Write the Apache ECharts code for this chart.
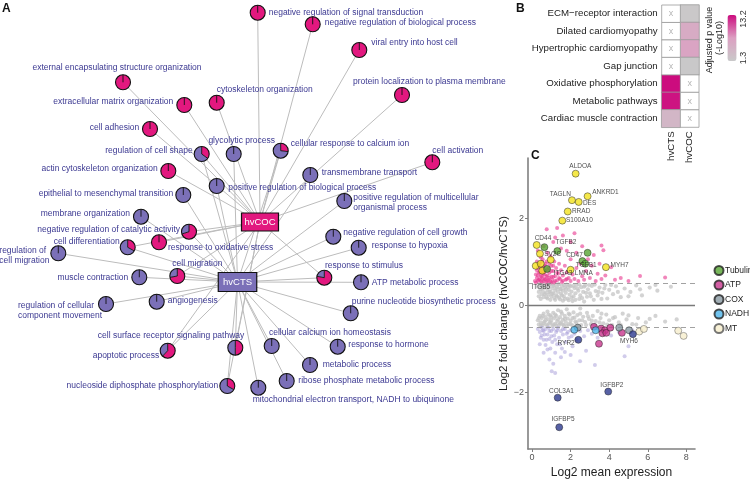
<!DOCTYPE html>
<html><head><meta charset="utf-8">
<script src="https://cdn.jsdelivr.net/npm/echarts@6/dist/echarts.min.js"></script>
<style>html,body{margin:0;padding:0;background:#fff}#c{width:750px;height:484px}</style>
</head><body><div id="c"></div>
<script>
// ---------------- Panel A data ----------------
const termNames = [
'negative regulation of signal transduction','negative regulation of biological process','viral entry into host cell',
'protein localization to plasma membrane','cytoskeleton organization','glycolytic process','cellular response to calcium ion',
'cell activation','external encapsulating structure organization','extracellular matrix organization','cell adhesion',
'regulation of cell shape','actin cytoskeleton organization','epithelial to mesenchymal transition','membrane organization',
'negative regulation of catalytic activity','cell differentiation','response to oxidative stress','regulation of\ncell migration',
'cell migration','muscle contraction','regulation of cellular\ncomponent movement','angiogenesis',
'positive regulation of biological process','transmembrane transport','positive regulation of multicellular\norganismal process',
'negative regulation of cell growth','response to hypoxia','response to stimulus','ATP metabolic process',
'purine nucleotide biosynthetic process','cell surface receptor signaling pathway','apoptotic process',
'nucleoside diphosphate phosphorylation','cellular calcium ion homeostasis','response to hormone','metabolic process',
'ribose phosphate metabolic process','mitochondrial electron transport, NADH to ubiquinone'];
const termX = [257.7,312.7,359.3,402,216.7,233.7,280.7,432.3,123,184.3,150,201.7,168.3,183.3,141,189,127.7,159,58.3,177.3,139.3,106,156.7,216.7,310.3,344.3,333.3,358.7,324.3,361,350.7,235.3,167.7,227.3,271.7,337.7,310,286.7,258.3];
const termY = [12.7,24.3,50,95,102.7,154,150.7,162.3,82.3,105,129,154,171,195,216.7,231.7,247.3,242.3,253.3,276,277.3,304,301.7,186,175,201,236.7,247.7,277.7,282.3,313.3,347.7,350.7,386,346,346.7,365,381,387.7];
// share of each term's pie belonging to hvCOC (rest is hvCTS)
const cocShare = [1,1,1,1,1,0,0.27,1,1,1,1,0.35,1,0,0,0.7,0.33,1,0,0.72,0,0,0,0,0,0,0,0,0.78,0,0,0.5,0.62,0.33,0,0,0,0,0];
const hubNames = ['hvCOC','hvCTS'];
const hubX = [260, 237.5];
const hubY = [222, 282];

// ---------------- Panel B data ----------------
const pathways = ['ECM\u2212receptor interaction','Dilated cardiomyopathy','Hypertrophic cardiomyopathy','Gap junction','Oxidative phosphorylation','Metabolic pathways','Cardiac muscle contraction'];
const groups = ['hvCTS','hvCOC'];
const padjCTS = [null,null,null,null,13.2,12.9,4.0];
const padjCOC = [1.5,5.6,6.7,1.4,null,null,null];
const padjRange = [1.3, 13.2];

// ---------------- Panel C data ----------------
const xTicks = [0,2,4,6,8];
const yTicks = [-2,0,2];
const grayPts = [[0.3,0.42],[0.35,0.3],[0.4,0.47],[0.45,0.36],[0.5,0.25],[0.5,0.44],[0.55,0.33],[0.6,0.48],[0.6,0.18],[0.65,0.4],[0.7,0.28],[0.75,0.45],[0.8,0.35],[0.8,0.15],[0.85,0.24],[0.9,0.42],[0.95,0.31],[1.0,0.48],[1.0,0.2],[1.05,0.38],[1.1,0.27],[1.15,0.45],[1.2,0.12],[1.2,0.33],[1.25,0.22],[1.3,0.41],[1.35,0.3],[1.4,0.48],[1.4,0.17],[1.45,0.37],[1.5,0.26],[1.55,0.44],[1.6,0.1],[1.6,0.33],[1.65,0.2],[1.7,0.4],[1.75,0.28],[1.8,0.47],[1.85,0.15],[1.9,0.35],[1.95,0.24],[2.0,0.43],[2.05,0.31],[2.1,0.09],[2.15,0.2],[2.2,0.39],[2.25,0.27],[2.3,0.46],[2.4,0.33],[2.45,0.14],[2.5,0.22],[2.55,0.41],[2.65,0.3],[2.7,0.08],[2.75,0.45],[2.85,0.19],[2.9,0.36],[3.0,0.27],[3.1,0.44],[3.2,0.12],[3.3,0.32],[3.4,0.22],[3.5,0.4],[3.65,0.28],[3.8,0.46],[3.9,0.15],[4.0,0.35],[4.2,0.25],[4.35,0.43],[4.6,0.18],[4.8,0.38],[5.1,0.3],[5.4,0.45],[5.7,0.22],[6.1,0.4],[6.5,0.33],[7.2,0.42],
[0.35,0.2],[0.45,0.14],[0.55,0.45],[0.65,0.25],[0.7,0.42],[0.75,0.18],[0.85,0.47],[0.9,0.3],[0.95,0.12],[1.05,0.25],[1.1,0.44],[1.15,0.16],[1.25,0.38],[1.3,0.2],[1.35,0.47],[1.45,0.13],[1.5,0.36],[1.55,0.22],[1.65,0.46],[1.7,0.14],[1.75,0.36],[1.85,0.42],[1.9,0.11],[1.95,0.45],[2.05,0.17],[2.15,0.44],[2.25,0.12],[2.35,0.38],[2.45,0.47],[2.6,0.16],[2.7,0.42],[2.8,0.28],[2.95,0.46],[3.05,0.2],[3.25,0.47],[3.45,0.3],[3.6,0.14],[3.75,0.38],[4.1,0.46],[4.45,0.3],[5.0,0.2],[5.6,0.36],[6.4,0.46],
[0.3,-0.35],[0.35,-0.45],[0.4,-0.25],[0.45,-0.4],[0.5,-0.3],[0.55,-0.47],[0.6,-0.2],[0.65,-0.38],[0.7,-0.28],[0.75,-0.45],[0.8,-0.15],[0.85,-0.33],[0.9,-0.42],[0.95,-0.24],[1.0,-0.36],[1.05,-0.48],[1.1,-0.18],[1.15,-0.3],[1.2,-0.43],[1.25,-0.25],[1.3,-0.37],[1.35,-0.12],[1.4,-0.46],[1.45,-0.28],[1.5,-0.4],[1.55,-0.2],[1.6,-0.34],[1.65,-0.47],[1.7,-0.25],[1.75,-0.39],[1.8,-0.1],[1.85,-0.31],[1.9,-0.44],[1.95,-0.22],[2.0,-0.36],[2.1,-0.47],[2.15,-0.17],[2.2,-0.29],[2.3,-0.41],[2.35,-0.23],[2.45,-0.35],[2.5,-0.08],[2.55,-0.46],[2.65,-0.27],[2.75,-0.39],[2.85,-0.18],[2.95,-0.32],[3.05,-0.44],[3.15,-0.25],[3.3,-0.37],[3.4,-0.14],[3.55,-0.3],[3.7,-0.42],[3.85,-0.22],[4.0,-0.35],[4.15,-0.46],[4.3,-0.28],[4.5,-0.4],[4.7,-0.2],[4.9,-0.33],[5.2,-0.44],[5.5,-0.3],[5.9,-0.4],[6.4,-0.25],[6.9,-0.38],[7.5,-0.33],
[0.35,-0.3],[0.45,-0.48],[0.55,-0.25],[0.6,-0.42],[0.7,-0.35],[0.8,-0.48],[0.85,-0.22],[0.95,-0.4],[1.0,-0.28],[1.1,-0.45],[1.2,-0.22],[1.25,-0.47],[1.35,-0.33],[1.45,-0.42],[1.5,-0.15],[1.6,-0.45],[1.7,-0.32],[1.8,-0.48],[1.9,-0.2],[2.0,-0.44],[2.1,-0.3],[2.25,-0.38],[2.4,-0.48],[2.5,-0.2],[2.6,-0.35],[2.8,-0.46],[2.9,-0.26],[3.1,-0.36],[3.25,-0.47],[3.5,-0.4],[3.6,-0.2],[3.9,-0.45],[4.2,-0.3],[4.6,-0.46],[5.0,-0.24],[5.4,-0.45],[6.1,-0.32]];
const pinkPts = [[0.15,0.55],[0.2,0.7],[0.25,0.62],[0.3,0.85],[0.3,0.55],[0.35,0.75],[0.4,0.6],[0.4,0.95],[0.45,0.68],[0.5,0.53],[0.5,0.82],[0.55,0.62],[0.55,1.05],[0.6,0.72],[0.6,0.55],[0.65,0.9],[0.7,0.6],[0.7,0.78],[0.75,0.52],[0.75,1.0],[0.8,0.68],[0.85,0.58],[0.85,0.85],[0.9,0.74],[0.95,0.54],[0.95,1.12],[1.0,0.65],[1.0,0.9],[1.05,0.58],[1.1,0.78],[1.15,0.52],[1.15,1.0],[1.2,0.66],[1.25,0.85],[1.3,0.57],[1.35,0.72],[1.4,0.95],[1.45,0.6],[1.5,0.8],[1.55,0.53],[1.6,0.68],[1.7,0.9],[1.75,0.58],[1.8,0.75],[1.9,0.62],[2.0,0.55],[2.0,1.05],[2.1,0.7],[2.2,0.6],[2.3,0.85],[2.4,0.55],[2.5,0.95],[2.6,0.66],[2.7,0.58],[2.8,0.78],[3.0,0.62],[3.1,0.9],[3.3,0.55],[3.4,0.72],[3.6,0.6],[3.8,0.68],[4.1,0.87],[4.3,0.58],[4.6,0.62],[5.0,0.55],[5.6,0.67],[6.9,0.63],
[0.2,0.52],[0.25,0.8],[0.3,0.68],[0.35,0.58],[0.35,0.92],[0.4,0.75],[0.45,0.55],[0.45,0.85],[0.5,0.65],[0.5,1.0],[0.55,0.75],[0.6,0.88],[0.65,0.58],[0.65,0.7],[0.7,0.95],[0.75,0.65],[0.8,0.55],[0.8,0.82],[0.9,0.62],[0.9,0.95],[1.0,0.52],[1.0,0.78],[1.1,0.65],[1.1,0.9],[1.2,0.55],[1.3,0.75],[1.4,0.62],[1.6,0.56],[1.8,0.6],[0.25,1.0],
[0.3,1.25],[0.6,1.35],[0.8,1.2],[0.76,1.74],[1.1,1.45],[1.3,1.77],[1.5,1.3],[1.6,1.6],[1.8,1.25],[2.0,1.45],[2.3,1.2],[2.6,1.35],[2.9,1.05],[3.2,1.15],[3.6,1.37],[3.7,1.26],[3.5,0.95],[1.2,1.55],[0.45,1.1],[2.2,1.65]];
const lavPts = [[0.3,-0.55],[0.4,-0.62],[0.5,-0.7],[0.5,-0.52],[0.6,-0.8],[0.6,-0.6],[0.7,-0.55],[0.7,-0.92],[0.8,-0.68],[0.85,-0.52],[0.9,-0.78],[0.95,-1.0],[1.0,-0.6],[1.05,-0.85],[1.1,-0.55],[1.15,-0.7],[1.2,-1.1],[1.25,-0.62],[1.3,-0.9],[1.35,-0.53],[1.4,-0.75],[1.5,-0.6],[1.55,-1.0],[1.6,-0.68],[1.7,-0.55],[1.75,-0.85],[1.85,-0.62],[1.9,-0.75],[2.0,-0.58],[2.1,-0.95],[2.2,-0.66],[2.3,-0.8],[2.5,-0.6],[2.7,-0.72],[2.9,-0.58],[3.1,-0.66],[3.4,-0.75],[3.7,-0.6],[4.1,-0.7],[4.5,-0.62],[5.2,-0.58],[0.6,-1.1],[0.9,-1.25],[1.02,-1.52],[1.2,-1.56],[1.1,-1.35],[1.5,-1.2],[2.49,-1.29],[3.26,-1.38],[2.0,-1.15],[0.8,-1.02],[1.7,-1.08],[4.8,-1.18],[5.0,-0.95],[2.8,-1.05],
[0.45,-0.75],[0.55,-0.58],[0.65,-0.68],[0.75,-0.8],[0.9,-0.6],[1.0,-0.72],[1.2,-0.8],[1.3,-0.58],[1.45,-0.9],[1.6,-0.55],[1.8,-0.66],[2.05,-0.72],[2.4,-0.55],[0.4,-0.9]];
const upGenes = ['ALDOA','TAGLN','DES','ANKRD1','RRAD','S100A10','CD44','SV2C','MYH7','LMNA','','ITGB5','','ITGA3'];
const upX = [2.26,2.07,2.42,2.88,1.85,1.57,0.24,0.41,3.83,2.0,0.97,0.19,0.45,0.53];
const upY = [3.02,2.41,2.37,2.50,2.15,1.94,1.38,1.18,0.87,0.81,1.04,0.90,0.95,0.79];
const tubGenes = ['TGFB2','','CD47','','TGFB1',''];
const tubX = [0.64,1.31,2.88,2.61,2.76,0.78];
const tubY = [1.33,1.24,1.20,1.01,0.95,0.83];
const atpX = [3.21,3.58,3.78,3.65,3.85,4.06,4.66,3.47];
const atpY = [-0.50,-0.54,-0.58,-0.65,-0.64,-0.52,-0.64,-0.89];
const coxX = [2.37,4.52,5.03];
const coxY = [-0.52,-0.52,-0.58];
const nadhX = [2.19,3.30];
const nadhY = [-0.57,-0.58];
const mtX = [5.56,5.80,7.58,7.86];
const mtY = [-0.61,-0.55,-0.59,-0.71];
const downGenes = ['RYR2','MYH6','COL3A1','IGFBP2','IGFBP5'];
const downX = [2.40,5.23,1.33,3.95,1.41];
const downY = [-0.80,-0.67,-2.13,-1.99,-2.81];

// ---------------- styles ----------------
const MAG = '#e2187f', PUR = '#7b70b8', TXT = '#3b3891', FONT = '"Liberation Sans", Arial, sans-serif';
// label placement for panel A terms: [dx, dy, align]
const termLabelPlace = [[11,0,'left'],[12,-2,'left'],[12,-7,'left'],[-49,-13,'left'],[0,-13,'left'],[8,-13,'center'],[10,-7,'left'],[0,-12,'left'],[-6,-14.6,'center'],[-11,-3,'right'],[-10.7,-1,'right'],[-9,-3,'right'],[-10.6,-2,'right'],[-10,-1,'right'],[-11,-3,'right'],[-9,-2.5,'right'],[-8,-6,'right'],[9,5,'left'],[-59,2.4,'left'],[-5,-12,'left'],[-11,0,'right'],[-88,6.5,'left'],[11,-1,'left'],[11.6,1.5,'left'],[11.4,-2,'left'],[9,2,'left'],[10,-4,'left'],[13,-2,'left'],[0.7,-12,'left'],[10.7,0,'left'],[1,-12,'left'],[9,-12,'right'],[-8.4,4.6,'right'],[-9,0,'right'],[-2.7,-13.3,'left'],[10.6,-1.7,'left'],[12.7,-0.7,'left'],[11.6,-0.7,'left'],[-5.6,12.3,'left']];
const hubStyle = [{w:37,h:18,fill:MAG},{w:38.5,h:19,fill:PUR}];
const geneLabelPlace = {
  ALDOA:[-6,-7,'left'], TAGLN:[-22,-5.7,'left'], DES:[4.5,1.7,'left'], ANKRD1:[5,-3.4,'left'], RRAD:[4.5,0.4,'left'],
  S100A10:[4,0.3,'left'], CD44:[-1.7,-6.7,'left'], SV2C:[4.5,1,'left'], MYH7:[5,-2,'left'], LMNA:[4.5,3.3,'left'],
  ITGB5:[-4,22,'left'], ITGA3:[11.7,3,'left'], TGFB2:[11.4,-5,'left'], CD47:[-4.5,2.7,'right'], TGFB1:[-9.3,1.7,'left'],
  RYR2:[-3.3,3.3,'right'], MYH6:[-12.7,7,'left'], COL3A1:[4,-6,'center'], IGFBP2:[4,-6,'center'], IGFBP5:[4,-7.3,'center']
};
const PSIZE = 7;
function geneData(names, xs, ys) {
  return xs.map((x, i) => {
    const n = names ? names[i] : '';
    const d = { name: n, value: [x, ys[i]] };
    if (n && geneLabelPlace[n]) {
      const p = geneLabelPlace[n];
      d.label = { show: true, formatter: n, position: [p[0] + PSIZE/2, p[1] + PSIZE/2], align: p[2], verticalAlign: 'middle',
                  fontSize: 6.5, color: '#1a1a1a', fontFamily: FONT };
    }
    return d;
  });
}

// edges
const edges = [];
termX.forEach((x, i) => {
  if (cocShare[i] > 0) edges.push({ coords: [[x, termY[i]], [hubX[0], hubY[0]]] });
  if (cocShare[i] < 1) edges.push({ coords: [[x, termY[i]], [hubX[1], hubY[1]]] });
});

const heatData = [], naData = [];
pathways.forEach((p, j) => {
  if (padjCTS[j] != null) heatData.push([0, j, padjCTS[j]]); else naData.push([0, j]);
  if (padjCOC[j] != null) heatData.push([1, j, padjCOC[j]]); else naData.push([1, j]);
});

const chart = echarts.init(document.getElementById('c'));
const R = 7.5;
const option = {
  animation: false,
  textStyle: { fontFamily: FONT },
  grid: [
    { left: 0, top: 0, width: 750, height: 484 },
    { left: 661.7, top: 5, width: 37.3, height: 122.3 },
    { left: 528, top: 158, width: 167, height: 301 }
  ],
  xAxis: [
    { gridIndex: 0, type: 'value', min: 0, max: 750, show: false },
    { gridIndex: 1, type: 'category', data: groups, position: 'bottom',
      axisLine: { show: false }, axisTick: { show: false },
      axisLabel: { rotate: 90, fontSize: 9.7, color: '#222', margin: 4 } },
    { gridIndex: 2, type: 'value', min: -0.21, max: 8.45,
      axisLine: { show: true, onZero: false, lineStyle: { color: '#808080', width: 1.6 } },
      axisTick: { show: true, length: 3, customValues: xTicks, lineStyle: { color: '#808080' } },
      axisLabel: { customValues: xTicks, fontSize: 9, color: '#555', margin: 4 },
      splitLine: { show: false },
      name: 'Log2 mean expression', nameLocation: 'middle', nameGap: 18,
      nameTextStyle: { fontSize: 12, color: '#222' } }
  ],
  yAxis: [
    { gridIndex: 0, type: 'value', min: 0, max: 484, inverse: true, show: false },
    { gridIndex: 1, type: 'category', data: pathways, inverse: true,
      axisLine: { show: false }, axisTick: { show: false },
      axisLabel: { fontSize: 9.7, color: '#222', margin: 4 } },
    { gridIndex: 2, type: 'value', min: -3.31, max: 3.38,
      axisLine: { show: true, onZero: false, lineStyle: { color: '#808080', width: 1.6 } },
      axisTick: { show: true, length: 3, customValues: yTicks, lineStyle: { color: '#808080' } },
      axisLabel: { customValues: yTicks, fontSize: 9, color: '#555', margin: 4,
                   formatter: v => v < 0 ? '\u2212' + Math.abs(v) : String(v) },
      splitLine: { show: false },
      name: 'Log2 fold change (hvCOC/hvCTS)', nameLocation: 'middle', nameGap: 14,
      nameTextStyle: { fontSize: 11.5, color: '#222' } }
  ],
  visualMap: {
    type: 'continuous', min: padjRange[0], max: padjRange[1], seriesIndex: 3,
    orient: 'vertical', left: 727.5, top: 15, padding: 0, itemWidth: 9, itemHeight: 46,
    calculable: false, text: null, showLabel: false, hoverLink: false,
    inRange: { color: ['#c9c9c9', '#dca0c2', '#cc0c7e'] }
  },
  legend: {
    data: ['Tubulin','ATP','COX','NADH','MT'], orient: 'vertical', left: 713.5, top: 265, padding: 0,
    itemGap: 3.5, itemWidth: 9, itemHeight: 9, icon: 'circle',
    textStyle: { fontSize: 8.5, color: '#222', padding: [0,0,0,-3.5] }
  },
  graphic: [
    { type: 'text', left: 2, top: 3, style: { text: 'A', font: 'bold 12px ' + FONT, fill: '#111' } },
    { type: 'text', left: 516, top: 3, style: { text: 'B', font: 'bold 12px ' + FONT, fill: '#111' } },
    { type: 'text', left: 531, top: 150, style: { text: 'C', font: 'bold 12px ' + FONT, fill: '#111' } },
    { type: 'text', x: 710, y: 40, rotation: Math.PI/2, style: { text: 'Adjusted p value', font: '9px ' + FONT, fill: '#222', align: 'center', verticalAlign: 'middle' } },
    { type: 'text', x: 720, y: 38, rotation: Math.PI/2, style: { text: '(-Log10)', font: '9px ' + FONT, fill: '#222', align: 'center', verticalAlign: 'middle' } },
    { type: 'text', x: 744, y: 19, rotation: Math.PI/2, style: { text: '13.2', font: '9px ' + FONT, fill: '#333', align: 'center', verticalAlign: 'middle' } },
    { type: 'text', x: 744, y: 58, rotation: Math.PI/2, style: { text: '1.3', font: '9px ' + FONT, fill: '#333', align: 'center', verticalAlign: 'middle' } }
  ],
  series: [
    { // 0 edges
      type: 'lines', coordinateSystem: 'cartesian2d', xAxisIndex: 0, yAxisIndex: 0, z: 1,
      lineStyle: { color: '#bcbcbc', width: 1, opacity: 1 }, silent: true, data: edges },
    { // 1 term pies
      type: 'custom', coordinateSystem: 'cartesian2d', xAxisIndex: 0, yAxisIndex: 0, z: 3, silent: true,
      data: termX.map((x, i) => [x, termY[i], cocShare[i], i]),
      renderItem: (params, api) => {
        const i = api.value(3), f = api.value(2);
        const c = api.coord([api.value(0), api.value(1)]);
        const cx = c[0], cy = c[1], a0 = -Math.PI / 2, a1 = a0 + 2 * Math.PI * f;
        const ch = [];
        if (f > 0) ch.push({ type: 'sector', shape: { cx, cy, r: R, r0: 0, startAngle: a0, endAngle: a1, clockwise: true }, style: { fill: MAG } });
        if (f < 1) ch.push({ type: 'sector', shape: { cx, cy, r: R, r0: 0, startAngle: a1, endAngle: a0 + 2 * Math.PI, clockwise: true }, style: { fill: PUR } });
        ch.push({ type: 'circle', shape: { cx, cy, r: R }, style: { fill: 'none', stroke: '#111', lineWidth: 1.1 } });
        ch.push({ type: 'line', shape: { x1: cx, y1: cy, x2: cx, y2: cy - R }, style: { stroke: '#111', lineWidth: 0.9 } });
        if (f > 0 && f < 1) ch.push({ type: 'line', shape: { x1: cx, y1: cy, x2: cx + R * Math.cos(a1), y2: cy + R * Math.sin(a1) }, style: { stroke: '#111', lineWidth: 0.9 } });
        const p = termLabelPlace[i];
        ch.push({ type: 'text', x: cx + p[0], y: cy + p[1], style: { text: termNames[i], fill: TXT, fontSize: 8.5, fontFamily: FONT, align: p[2], verticalAlign: 'middle', lineHeight: 10 } });
        return { type: 'group', children: ch };
      } },
    { // 2 hubs
      type: 'custom', coordinateSystem: 'cartesian2d', xAxisIndex: 0, yAxisIndex: 0, z: 4, silent: true,
      data: hubX.map((x, i) => [x, hubY[i], i]),
      renderItem: (params, api) => {
        const i = api.value(2), c = api.coord([api.value(0), api.value(1)]), s = hubStyle[i];
        return { type: 'group', children: [
          { type: 'rect', shape: { x: c[0] - s.w / 2, y: c[1] - s.h / 2, width: s.w, height: s.h }, style: { fill: s.fill, stroke: '#111', lineWidth: 1.2 } },
          { type: 'text', x: c[0], y: c[1], style: { text: hubNames[i], fill: '#fff', fontSize: 9.5, fontFamily: FONT, align: 'center', verticalAlign: 'middle' } }
        ] };
      } },
    { // 3 heatmap
      type: 'heatmap', xAxisIndex: 1, yAxisIndex: 1, data: heatData,
      itemStyle: { borderColor: '#9a9a9a', borderWidth: 0.8 }, silent: true },
    { // 4 NA cells
      type: 'custom', xAxisIndex: 1, yAxisIndex: 1, data: naData, silent: true,
      renderItem: (params, api) => {
        const c = api.coord([api.value(0), api.value(1)]), sz = api.size([1, 1]);
        return { type: 'group', children: [
          { type: 'rect', shape: { x: c[0] - sz[0] / 2, y: c[1] - sz[1] / 2, width: sz[0], height: sz[1] }, style: { fill: '#fff', stroke: '#9a9a9a', lineWidth: 0.8 } },
          { type: 'text', x: c[0], y: c[1], style: { text: 'x', fill: '#b5b5b5', fontSize: 9, fontFamily: FONT, align: 'center', verticalAlign: 'middle' } }
        ] };
      } },
    { // 5 gray background
      type: 'scatter', xAxisIndex: 2, yAxisIndex: 2, data: grayPts, symbolSize: 4.2, silent: true,
      itemStyle: { color: '#c4c4c4', opacity: 0.75 },
      markLine: { silent: true, symbol: ['none', 'none'], label: { show: false },
        data: [
          { yAxis: 0, lineStyle: { type: 'solid', color: '#7a7a7a', width: 1.3 } },
          { yAxis: 0.5, lineStyle: { type: [5, 4], color: '#8a8a8a', width: 0.8 } },
          { yAxis: -0.5, lineStyle: { type: [5, 4], color: '#8a8a8a', width: 0.8 } }
        ] } },
    { type: 'scatter', xAxisIndex: 2, yAxisIndex: 2, data: pinkPts, symbolSize: 4, silent: true,
      itemStyle: { color: '#e8358d', opacity: 0.6 } },
    { type: 'scatter', xAxisIndex: 2, yAxisIndex: 2, data: lavPts, symbolSize: 4, silent: true,
      itemStyle: { color: '#a49ad8', opacity: 0.5 } },
    { name: 'up', type: 'scatter', xAxisIndex: 2, yAxisIndex: 2, data: geneData(upGenes, upX, upY), symbolSize: PSIZE, z: 5,
      itemStyle: { color: '#f3e21d', borderColor: '#222', borderWidth: 0.6 } },
    { name: 'Tubulin', type: 'scatter', xAxisIndex: 2, yAxisIndex: 2, data: geneData(tubGenes, tubX, tubY), symbolSize: PSIZE, z: 5,
      itemStyle: { color: '#56a532', borderColor: '#222', borderWidth: 0.6 } },
    { name: 'ATP', type: 'scatter', xAxisIndex: 2, yAxisIndex: 2, data: geneData(null, atpX, atpY), symbolSize: PSIZE, z: 5,
      itemStyle: { color: '#c8378d', borderColor: '#222', borderWidth: 0.6 } },
    { name: 'COX', type: 'scatter', xAxisIndex: 2, yAxisIndex: 2, data: geneData(null, coxX, coxY), symbolSize: PSIZE, z: 5,
      itemStyle: { color: '#8a9aa2', borderColor: '#222', borderWidth: 0.6 } },
    { name: 'NADH', type: 'scatter', xAxisIndex: 2, yAxisIndex: 2, data: geneData(null, nadhX, nadhY), symbolSize: PSIZE, z: 5,
      itemStyle: { color: '#4db4ea', borderColor: '#222', borderWidth: 0.6 } },
    { name: 'MT', type: 'scatter', xAxisIndex: 2, yAxisIndex: 2, data: geneData(null, mtX, mtY), symbolSize: PSIZE, z: 5,
      itemStyle: { color: '#f6edcc', borderColor: '#555', borderWidth: 0.6 } },
    { name: 'down', type: 'scatter', xAxisIndex: 2, yAxisIndex: 2, data: geneData(downGenes, downX, downY), symbolSize: PSIZE, z: 5,
      itemStyle: { color: '#2d3a8e', borderColor: '#222', borderWidth: 0.6 } }
  ]
};
chart.setOption(option);
</script>
</body></html>
